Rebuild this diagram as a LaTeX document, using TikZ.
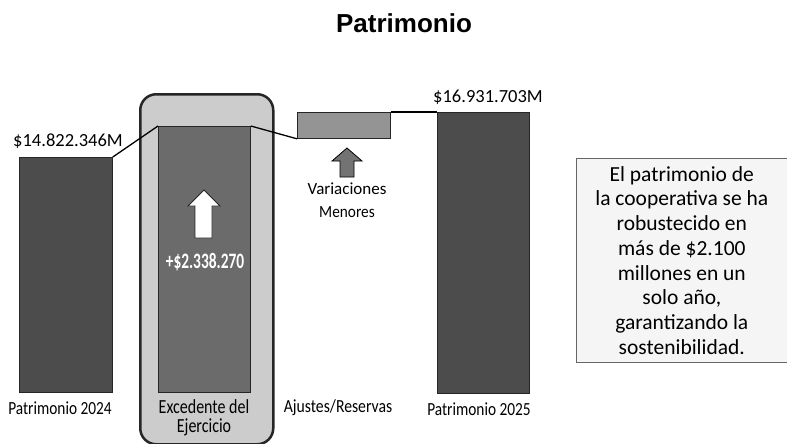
\documentclass[tikz,border=0pt]{standalone}
\usepackage{fontspec}
\usepackage{graphicx}
\setmainfont{Carlito}
\newfontfamily\titlefont{Liberation Sans}

\begin{document}
\begin{tikzpicture}[x=1pt, y=-1pt,
  bar/.style={draw=black!85, line width=0.8pt, inner sep=0pt, anchor=north west},
  cat/.style={font=\fontsize{18.5}{19}\selectfont, align=center},
  val/.style={font=\fontsize{18.5}{20}\selectfont},
  link/.style={draw=black, line width=1.3pt}]
\useasboundingbox (0,0) rectangle (787,444);
\node[draw=black!85, line width=2.5pt, rounded corners=16pt, fill=black!20, inner sep=0pt, minimum width=133pt, minimum height=350pt, anchor=north west] (H) at (139,93) {};
\node[bar, fill=black!70, minimum width=93pt, minimum height=235pt] (P24) at (19,157) {};
\node[bar, fill=black!58, minimum width=92pt, minimum height=266pt] (EX) at (158,126) {};
\node[bar, fill=black!42, minimum width=93pt, minimum height=26pt] (AJ) at (297,112) {};
\node[bar, fill=black!70, minimum width=92pt, minimum height=281pt] (P25) at (437,112) {};
\path[link] (P24.north east) -- (EX.north west);
\path[link] (EX.north east) -- (AJ.south west);
\path[link] (AJ.north east) -- (P25.north west);
\draw[fill=white, draw=black!85, line width=0.8pt] (195,238) -- (195,206) -- (188,206) -- (204,190) -- (220,206) -- (212,206) -- (212,238) -- cycle;
\draw[fill=black!55, draw=black, line width=0.8pt] (340,177) -- (340,161) -- (332,161) -- (347,148) -- (362,161) -- (354,161) -- (354,177) -- cycle;
\node[text=white, font=\bfseries\fontsize{22}{24}\selectfont] (GAIN) at (205,262) {\scalebox{0.7}[1]{+\$2.338.270}};
\node[font=\titlefont\bfseries\fontsize{26}{30}\selectfont] (T) at (404,23) {Patrimonio};
\node[val] (V24) at (68,141) {\$14.822.346M};
\node[val] (V25) at (488,97) {\$16.931.703M};
\node[cat] (L24) at (60,408) {\scalebox{0.83}[1]{Patrimonio 2024}};
\node[cat, font=\fontsize{20}{19}\selectfont] (LEX) at (204,418) {\scalebox{0.8}[1]{Excedente del}\\\scalebox{0.8}[1]{Ejercicio}};
\node[cat] (LAJ) at (338,408) {\scalebox{0.85}[1]{Ajustes/Reservas}};
\node[cat] (L25) at (479,409) {\scalebox{0.83}[1]{Patrimonio 2025}};
\node[cat, font=\fontsize{17}{23}\selectfont] (VAR) at (347,200) {Variaciones\\\scalebox{0.9}[1]{Menores}};
\node[draw=black!60, line width=0.6pt, fill=black!4, minimum width=211pt, minimum height=204pt, anchor=north west, inner sep=0pt] (NOTE) at (576,158) {};
\node[font=\fontsize{21.5}{24.7}\selectfont, align=center] (NT) at (NOTE.center) {El patrimonio de\\la cooperativa se ha\\robustecido en\\más de \$2.100\\millones en un\\solo año,\\garantizando la\\sostenibilidad.};
\end{tikzpicture}
\end{document}
